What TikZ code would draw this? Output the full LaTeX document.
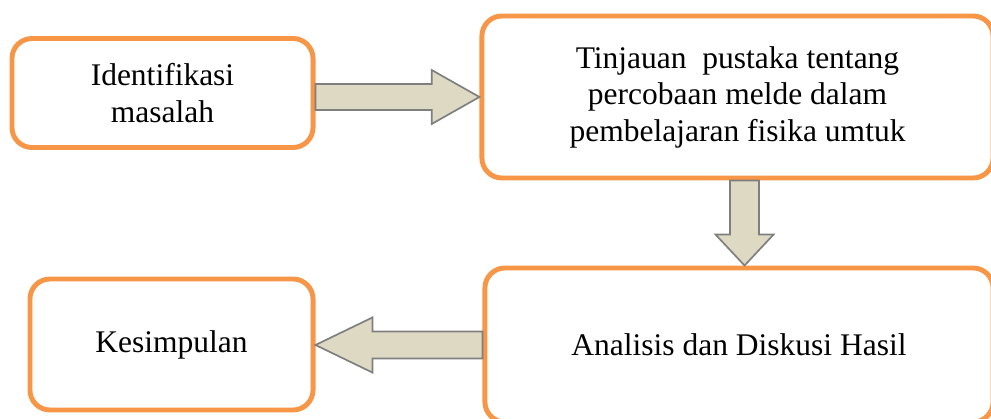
\documentclass[tikz,border=0pt]{standalone}
\usepackage{fontspec}
\setmainfont{Liberation Serif}
\usepackage{tikz}
\usetikzlibrary{calc,positioning}

\definecolor{boxorange}{HTML}{F79646}
\definecolor{arrowfill}{HTML}{DDD9C3}
\definecolor{arrowline}{HTML}{7F7F7F}

\begin{document}
\begin{tikzpicture}[
        x=0.025cm, y=-0.025cm,
        stepbox/.style={rectangle, draw=boxorange, line width=3.5pt, fill=white, rounded corners=0.5cm, align=center, font=\fontsize{22.4}{26}\selectfont},
        blockarrow/.style={draw=arrowline, fill=arrowfill, line width=1.2pt, line join=miter},
        ]
        \clip (0,0) rectangle (991,419);
        
        % Boxes
        \node[stepbox, minimum width=7.525cm, minimum height=2.725cm] (ident) at (162.5,93) {Identifikasi\\masalah};
        \node[stepbox, minimum width=12.775cm, minimum height=4.05cm] (tinjau) at (737.5,97) {Tinjauan~ pustaka tentang\\percobaan melde dalam\\pembelajaran fisika umtuk};
        \node[stepbox, minimum width=12.7cm, minimum height=3.85cm] (analisis) at (739,345) {Analisis dan Diskusi Hasil};
        \node[stepbox, minimum width=7.075cm, minimum height=3.275cm] (kesimp) at (171.5,344.5) {Kesimpulan};
        
        % Block arrows between the boxes
        \draw[blockarrow] let \p1=(ident.east), \p2=(tinjau.west) in
            (\x1,\y2+9.2pt) -- (\x2-34pt,\y2+9.2pt) -- (\x2-34pt,\y2+19.2pt) -- (\x2,\y2)
            -- (\x2-34pt,\y2-19.2pt) -- (\x2-34pt,\y2-9.2pt) -- (\x1,\y2-9.2pt) -- cycle;
        \draw[blockarrow] let \p1=([xshift=5pt]tinjau.south), \p2=(analisis.north) in
            (\x1-10.3pt,\y1) -- (\x1-10.3pt,\y2+22pt) -- (\x1-20.6pt,\y2+22pt) -- (\x1,\y2)
            -- (\x1+20.6pt,\y2+22pt) -- (\x1+10.3pt,\y2+22pt) -- (\x1+10.3pt,\y1) -- cycle;
        \draw[blockarrow] let \p1=(analisis.west), \p2=(kesimp.east) in
            (\x1,\y1+9.6pt) -- (\x2+40.5pt,\y1+9.6pt) -- (\x2+40.5pt,\y1+19.6pt) -- (\x2,\y1)
            -- (\x2+40.5pt,\y1-19.6pt) -- (\x2+40.5pt,\y1-9.6pt) -- (\x1,\y1-9.6pt) -- cycle;
        
    \end{tikzpicture}
\end{document}
